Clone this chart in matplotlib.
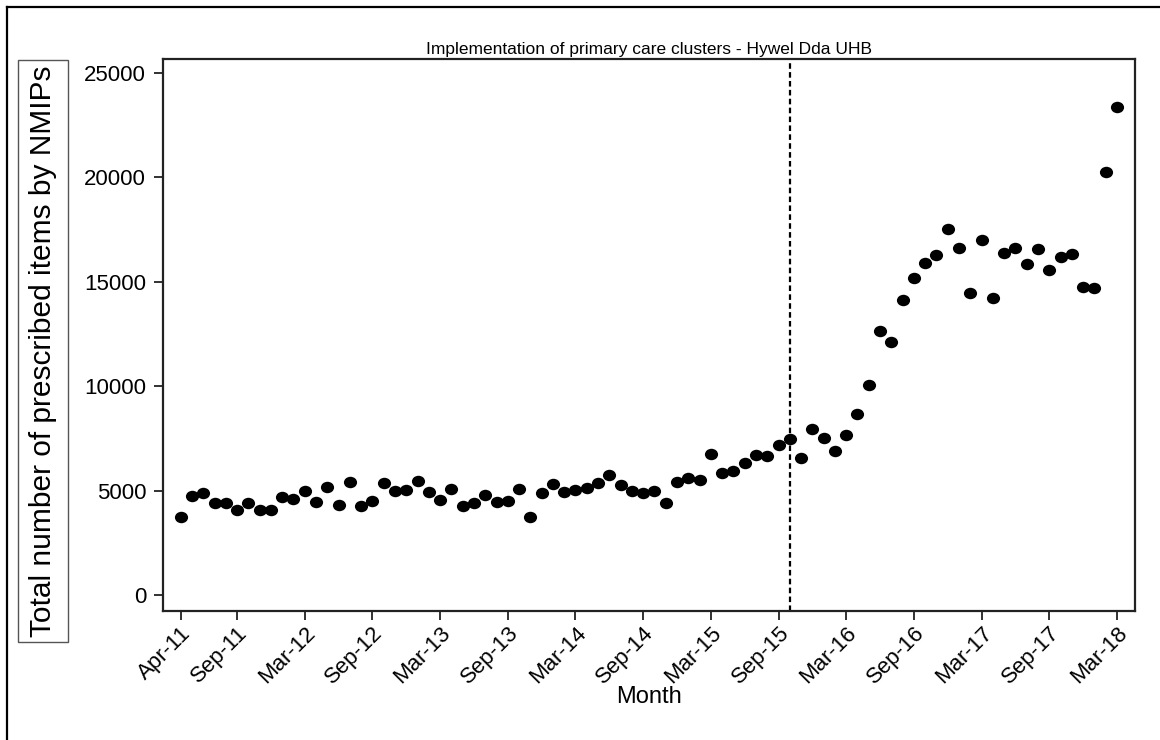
import numpy as np
import matplotlib.pyplot as plt
from matplotlib.patches import Rectangle
from matplotlib.lines import Line2D
from matplotlib.path import Path
from matplotlib.transforms import Affine2D

# monthly totals Apr-11 .. Mar-18
items = [3750, 4760, 4890, 4390, 4420, 4090, 4420, 4090, 4070, 4680,
         4615, 5000, 4440, 5160, 4310, 5400, 4250, 4490, 5370, 5000,
         5030, 5465, 4950, 4550, 5095, 4280, 4390, 4810, 4440, 4520,
         5080, 3735, 4890, 5320, 4935, 5030, 5145, 5385, 5755, 5270,
         4970, 4890, 5000, 4420, 5400, 5590, 5530, 6765, 5865, 5930,
         6315, 6680, 6650, 7195, 7450, 6540, 7960, 7510, 6880, 7645,
         8650, 10060, 12655, 12110, 14130, 15170, 15920, 16290, 17510, 16625,
         14460, 17000, 14225, 16390, 16625, 15860, 16570, 15565, 16195, 16330,
         14740, 14700, 20280, 23400]
tick_pos = [0, 5, 11, 17, 23, 29, 35, 41, 47, 53, 59, 65, 71, 77, 83]
tick_labels = ['Apr-11', 'Sep-11', 'Mar-12', 'Sep-12', 'Mar-13', 'Sep-13', 'Mar-14',
               'Sep-14', 'Mar-15', 'Sep-15', 'Mar-16', 'Sep-16', 'Mar-17', 'Sep-17', 'Mar-18']
y_ticks = [0, 5000, 10000, 15000, 20000, 25000]
intervention = 54  # Oct-15

plt.rcParams['font.family'] = ['Liberation Sans', 'DejaVu Sans']

W, H = 1160, 740
fig = plt.figure(figsize=(W / 100, H / 100), dpi=100)
ax = fig.add_axes([162.5 / W, 1 - 611 / H, (1135 - 162.5) / W, (611 - 58.5) / H])

# slightly wide dots, as in the original
dot = Path.unit_circle().transformed(Affine2D().scale(1.15, 1.0))
x = np.arange(len(items))
ax.scatter(x, items, s=90, marker=dot, color='black', zorder=3, linewidths=0)
ax.axvline(intervention, color='black', linestyle=(0, (2.5, 1.5)), linewidth=1.6)

ax.set_xlim(-1.61, 84.6)
ax.set_ylim(-770, 25700)
ax.set_xticks(tick_pos)
ax.set_xticklabels(tick_labels, rotation=45, ha='right', rotation_mode='anchor', fontsize=16)
ax.set_yticks(y_ticks)
ax.set_yticklabels([str(v) for v in y_ticks], fontsize=16)
ax.tick_params(direction='out', length=6.8, width=1.3, color='#222222')
ax.tick_params(axis='y', pad=5)
ax.tick_params(axis='x', pad=1.5)
for sp in ax.spines.values():
    sp.set_linewidth(1.6)
    sp.set_color('#222222')

ax.set_title('Implementation of primary care clusters - Hywel Dda UHB', fontsize=12.5, pad=3)
fig.text(649 / W, 1 - 697 / H, 'Month', ha='center', va='center', fontsize=17)

# boxed y label
fig.patches.append(Rectangle((18 / W, 1 - 642 / H), 50 / W, (642 - 60) / H,
                             transform=fig.transFigure, fill=False,
                             edgecolor='#555555', linewidth=1.0))
fig.text(43 / W, 1 - 351 / H, 'Total number of prescribed items by NMIPs',
         rotation=90, ha='center', va='center', fontsize=21.5)

# outer frame (top and left only)
fig.add_artist(Line2D([7 / W, 7 / W], [0, 1 - 6.5 / H], transform=fig.transFigure,
                      color='black', linewidth=1.6))
fig.add_artist(Line2D([7 / W, 1], [1 - 6.5 / H, 1 - 6.5 / H], transform=fig.transFigure,
                      color='black', linewidth=1.6))

plt.savefig('out.png', dpi=100)
